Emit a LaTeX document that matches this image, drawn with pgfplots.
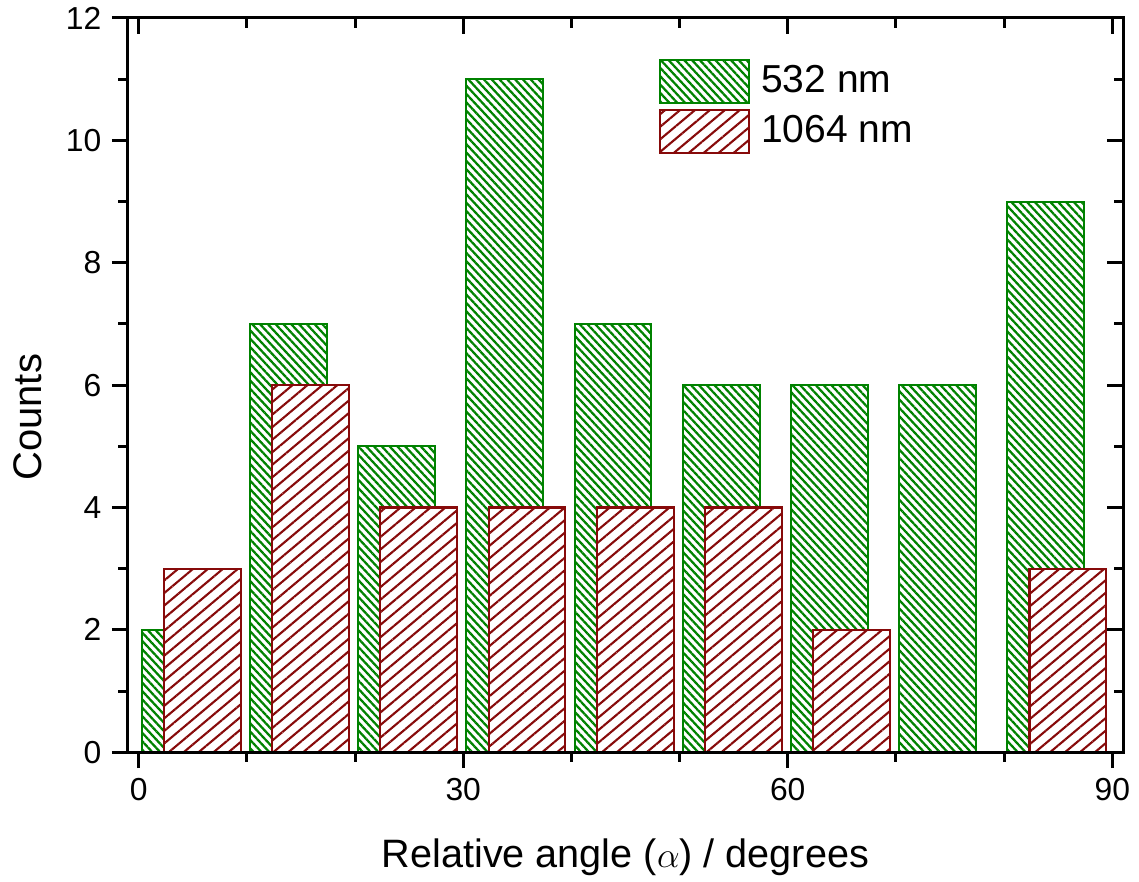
\documentclass[border=0pt]{standalone}
\usepackage{fontspec}
\setmainfont{Liberation Sans}
\usepackage{pgfplots}
\pgfplotsset{compat=1.18}
\usetikzlibrary{patterns.meta}

\definecolor{gbar}{RGB}{0,130,0}
\definecolor{rbar}{RGB}{135,10,10}

\begin{document}
\begin{tikzpicture}
\pgfplotsset{
  common/.style={
    scale only axis,
    width=331.7pt, height=244.7pt,
    xmin=-1, xmax=91, ymin=0, ymax=12,
    xtick={0,30,60,90}, minor x tick num=2,
    ytick={0,2,...,12}, minor y tick num=1,
    major tick length=5.3pt, minor tick length=3.2pt,
    every tick/.style={black, line width=1pt},
    every minor tick/.style={black, line width=1pt},
    axis line style={line width=1pt},
    /pgf/number format/assume math mode=true,
    ticklabel style={font=\fontsize{10.6}{12}\selectfont},
  },
}
\begin{axis}[common, name=ax,
    tick align=outside, xtick pos=bottom, ytick pos=left,
    axis on top,
    ybar, bar shift=0pt, bar width=7.1,
    legend style={at={(0.533,0.945)}, anchor=north west, draw=none, fill=none,
      inner sep=0pt, row sep=1.5pt,
      nodes={inner sep=0pt, font=\fontsize{13}{15}\selectfont}},
    legend cell align=left,
    legend image code/.code={\draw[#1] (0pt,-7.2pt) rectangle (29.6pt,7.2pt);},
    /tikz/every odd column/.append style={column sep=3.8pt},
]
\addplot[draw=gbar, line width=0.7pt, fill=white,
  postaction={pattern={Lines[angle=-47, distance=1.9pt, line width=0.75pt]}, pattern color=gbar}]
  coordinates {(3.85,2) (13.85,7) (23.85,5) (33.85,11) (43.85,7) (53.85,6) (63.85,6) (73.85,6) (83.85,9)};
\addplot[draw=rbar, line width=0.7pt, fill=white,
  postaction={pattern={Lines[angle=40, distance=3.2pt, line width=0.7pt]}, pattern color=rbar}]
  coordinates {(5.9,3) (15.9,6) (25.9,4) (35.9,4) (45.9,4) (55.9,4) (65.9,2) (85.9,3)};
\legend{532 nm, 1064 nm}
\end{axis}
\begin{axis}[common,
    tick align=inside, xtick pos=top, ytick pos=right,
    xticklabels={}, yticklabels={},
]
\end{axis}
\node[rotate=90, anchor=base, font=\fontsize{13.3}{15}\selectfont]
  at ([xshift=-28.7pt,yshift=-10.7pt]ax.west) {Counts};
\node[anchor=base, font=\fontsize{13.2}{15}\selectfont]
  at ([yshift=-38.3pt]ax.south) {Relative angle ($\alpha$) / degrees};
\pgfresetboundingbox
\path ([shift={(-42.6pt,-43pt)}]ax.south west) rectangle ([shift={(5.3pt,6pt)}]ax.north east);
\end{tikzpicture}
\end{document}
